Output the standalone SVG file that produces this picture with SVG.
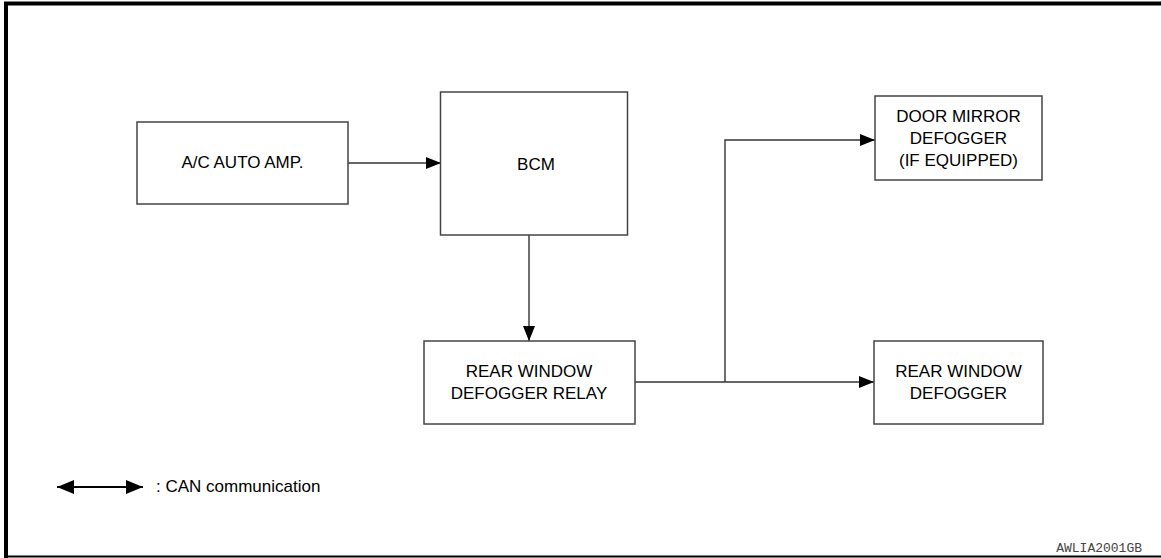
<svg xmlns="http://www.w3.org/2000/svg" width="1161" height="558" viewBox="0 0 1161 558">
<defs>
<marker id="ah" markerWidth="15" markerHeight="12" refX="15" refY="6" orient="auto" markerUnits="userSpaceOnUse">
<path d="M0,0 L15,6 L0,12 Z" fill="#000"/>
</marker>
<marker id="lh" markerWidth="17" markerHeight="14" refX="17" refY="7" orient="auto" markerUnits="userSpaceOnUse">
<path d="M0,0 L17,7 L0,14 Z" fill="#000"/>
</marker>
<marker id="lhs" markerWidth="17" markerHeight="14" refX="0" refY="7" orient="auto" markerUnits="userSpaceOnUse">
<path d="M17,0 L0,7 L17,14 Z" fill="#000"/>
</marker>
</defs>
<style>
.box{fill:#fff;stroke:#444;stroke-width:1.5}
.t{font-family:"Liberation Sans",Arial,sans-serif;font-size:17px;fill:#000;text-anchor:middle}
.c{fill:none;stroke:#333;stroke-width:1.4}
</style>
<rect width="1161" height="558" fill="#fff"/>
<g id="frame">
<path d="M1161,3.5 H6 V558" fill="none" stroke="#000" stroke-width="4"/>
<path d="M6,556.5 H1161" fill="none" stroke="#000" stroke-width="2"/>
</g>
<g id="connectors">
<path class="c" d="M348,163 H441" marker-end="url(#ah)"/>
<path class="c" d="M529,235 V341" marker-end="url(#ah)"/>
<path class="c" d="M635,382 H874" marker-end="url(#ah)"/>
<path class="c" d="M725,382 V140 H875" marker-end="url(#ah)"/>
</g>
<g id="ac-auto-amp">
<rect class="box" x="137" y="122" width="211" height="82"/>
<text class="t" x="242.5" y="168">A/C AUTO AMP.</text>
</g>
<g id="bcm">
<rect class="box" x="440.5" y="92" width="187" height="143"/>
<text class="t" x="536" y="170">BCM</text>
</g>
<g id="relay">
<rect class="box" x="424" y="341" width="211" height="83"/>
<text class="t" x="529" y="377">REAR WINDOW</text>
<text class="t" x="529" y="399">DEFOGGER RELAY</text>
</g>
<g id="door-mirror">
<rect class="box" x="875" y="96" width="167" height="84"/>
<text class="t" x="958.5" y="122">DOOR MIRROR</text>
<text class="t" x="958.5" y="144">DEFOGGER</text>
<text class="t" x="958.5" y="166">(IF EQUIPPED)</text>
</g>
<g id="rear-window-defogger">
<rect class="box" x="874" y="341" width="169" height="83"/>
<text class="t" x="958.5" y="377">REAR WINDOW</text>
<text class="t" x="958.5" y="399">DEFOGGER</text>
</g>
<g id="legend">
<path d="M57,487 H143" stroke="#000" stroke-width="2" fill="none" marker-start="url(#lhs)" marker-end="url(#lh)"/>
<text x="156" y="492" style="font-family:'Liberation Sans',Arial,sans-serif;font-size:17px;fill:#000">: CAN communication</text>
</g>
<text x="1142" y="552" text-anchor="end" style="font-family:'Liberation Mono','Courier New',monospace;font-size:13px;fill:#444">AWLIA2001GB</text>
</svg>
